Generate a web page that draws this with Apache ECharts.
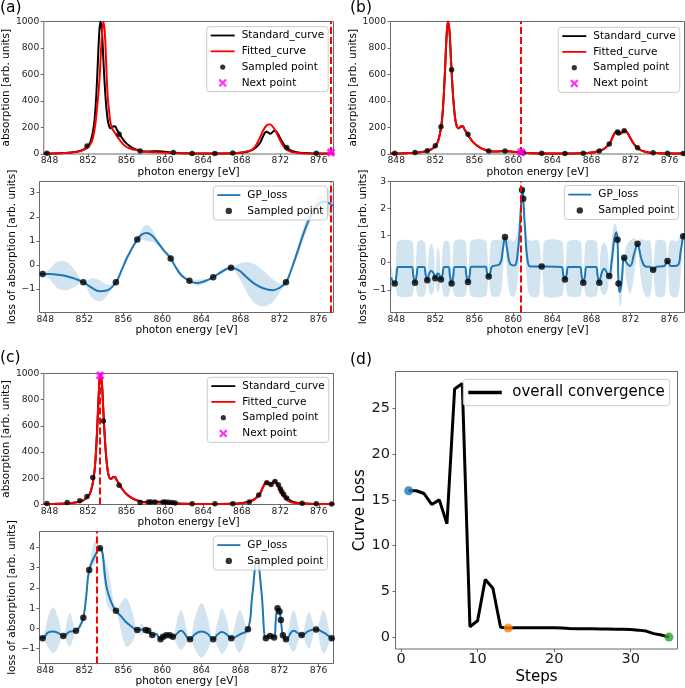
<!DOCTYPE html>
<html><head><meta charset="utf-8">
<script src="https://cdn.jsdelivr.net/npm/echarts@6/dist/echarts.min.js"></script>
<style>html,body{margin:0;padding:0;background:#fff}#c{width:685px;height:688px}</style>
</head><body><div id="c"></div>
<script>
// ---------------- tick labels ----------------
const energyTicks = [848, 852, 856, 860, 864, 868, 872, 876];
const absTicks = [0, 200, 400, 600, 800, 1000];
const lossTicksAB = [-1, 0, 1, 2, 3];
const lossTicksC = [-1, 0, 1, 2, 3, 4];
const stepTicks = [0, 10, 20, 30];
const curveLossTicks = [0, 5, 10, 15, 20, 25];

// ---------------- standard spectrum (black) ----------------
const stdE = [847.4, 848.0, 849.0, 850.0, 850.8, 851.5, 852.0, 852.3, 852.6, 852.8,
  853.0, 853.15, 853.3, 853.45, 853.6, 853.8, 854.0, 854.2, 854.4, 854.6,
  854.8, 855.0, 855.3, 855.6, 856.0, 856.5, 857.0, 857.5, 858.0, 858.7,
  859.3, 860.0, 861.0, 862.0, 863.0, 865.0, 867.0, 868.0, 868.8, 869.4,
  869.9, 870.25, 870.55, 870.8, 870.95, 871.15, 871.4, 871.7, 872.0, 872.4,
  872.75, 873.2, 874.0, 875.0, 876.0, 877.6];
const stdY = [3, 4, 6, 10, 17, 32, 60, 100, 205, 360,
  640, 880, 1000, 930, 720, 460, 290, 210, 195, 208,
  210, 185, 150, 115, 80, 52, 34, 23, 19, 20,
  21, 17, 10, 6, 4, 4, 6, 11, 23, 45,
  85, 140, 168, 160, 153, 162, 175, 158, 118, 70,
  45, 24, 10, 6, 4, 3];

// ---------------- fitted curves (red) ----------------
const fitAE = [847.4, 848, 849, 850, 851, 851.5, 852.0, 852.4, 852.7, 852.95,
  853.2, 853.4, 853.6, 853.75, 853.9, 854.05, 854.25, 854.45, 854.8, 855.3,
  855.8, 856.3, 857.4, 858, 859, 860, 861, 862, 864, 866,
  867.5, 868.5, 869.0, 869.4, 869.8, 870.2, 870.55, 870.85, 871.15, 871.5,
  871.9, 872.3, 872.7, 873.2, 874, 875, 877.6];
const fitAY = [2, 3, 5, 9, 18, 30, 52, 93, 190, 350,
  560, 830, 1000, 920, 680, 440, 290, 205, 160, 106,
  65, 43, 23, 17, 13, 10, 7, 5, 4, 4,
  8, 18, 30, 58, 110, 175, 213, 224, 212, 175,
  115, 62, 30, 14, 6, 3, 2];
const fitBE = stdE;   // panel (b): fitted curve coincides with the standard
const fitBY = stdY;
const fitCE = stdE;
const fitCY = [3, 4, 6, 10, 17, 32, 60, 100, 205, 360,
  640, 880, 1000, 930, 720, 460, 290, 210, 195, 208,
  210, 185, 150, 115, 80, 52, 34, 22, 15, 14,
  14, 12, 8, 5, 4, 4, 6, 11, 23, 45,
  85, 142, 172, 160, 150, 165, 182, 150, 100, 52,
  30, 15, 8, 5, 4, 3];

// ---------------- sampled / next points ----------------
const aSampE = [847.73, 851.9, 855.24, 857.43, 860.88, 862.83, 865.2, 867.06, 872.66, 875.74];
const aSampAbs = [5, 60, 150, 23, 11, 4, 4, 7, 50, 6];
const aLossSampE = [847.73, 851.9, 855.24, 857.43, 860.85, 862.77, 865.2, 867.03, 872.66];
const aLossSamp = [-0.38, -0.72, -0.72, 1.06, 0.27, -0.66, -0.51, -0.12, -0.72];
const aNext = [877.27, 12];

const bSampE = [847.84, 849.92, 851.18, 852.0, 852.58, 853.67, 855.35, 857.47, 859.14, 860.88,
  861.01, 862.9, 865.28, 867.16, 868.8, 869.82, 870.67, 870.77, 871.35, 872.72,
  874.32, 875.79, 877.4];
const bSampAbs = [5, 12, 24, 62, 205, 635, 149, 23, 22, 11,
  10, 5, 4, 5, 23, 75, 166, 158, 175, 47,
  9, 5, 3];
const bLossSamp = [-0.77, -0.74, -0.65, -0.57, -0.62, -0.77, -0.71, -0.51, 0.95, 2.69,
  2.36, -0.14, -0.62, -0.74, -0.74, -0.49, 0.85, -0.77, 0.18, 0.70,
  -0.26, 0.06, 0.98];
const bNext = [860.8, 14];

const cSampE = [847.73, 849.85, 851.15, 851.9, 852.5, 853.6, 855.24, 857.43, 858.28, 858.55,
  858.96, 859.81, 860.07, 860.4, 860.75, 861.07, 862.83, 865.2, 867.06, 868.77,
  869.76, 870.6, 871.04, 871.45, 871.8, 872.0, 872.14, 872.35, 872.66, 874.27,
  875.74, 877.34];
const cSampAbs = [8, 15, 28, 61, 206, 638, 147, 16, 19, 19,
  20, 20, 19, 17, 15, 12, 5, 5, 6, 20,
  73, 166, 153, 175, 150, 120, 100, 78, 50, 10,
  6, 4];
const cLossSampE = [847.73, 849.85, 851.15, 851.9, 852.5, 853.6, 855.24, 857.43, 858.28, 858.55,
  858.96, 859.81, 860.07, 860.4, 860.75, 861.07, 862.83, 865.2, 867.06, 868.77,
  870.6, 871.04, 871.45, 871.8, 872.0, 872.14, 872.35, 872.66, 874.27, 875.74,
  877.34];
const cLossSamp = [-0.49, -0.37, -0.11, 0.53, 2.88, 3.95, 0.87, -0.08, -0.08, -0.11,
  -0.33, -0.54, -0.41, -0.34, -0.34, -0.41, -0.54, -0.54, -0.49, -0.04,
  -0.49, -0.37, -0.45, 0.99, 0.83, 0.41, -0.34, -0.54, -0.33, -0.05,
  -0.49];
const cNext = [853.27, 985];

// ---------------- GP loss: mean and band (panel a) ----------------
const gpAE = [847.42, 847.73, 848.50, 849.30, 850.20, 851.10, 851.90, 852.70, 853.60, 854.30,
  855.24, 855.80, 856.40, 857.43, 857.90, 858.40, 858.90, 859.40, 860.10, 860.85,
  861.40, 862.00, 862.77, 863.50, 864.30, 865.20, 866.10, 867.03, 867.80, 868.60,
  869.50, 870.40, 871.30, 872.00, 872.66, 873.20, 873.80, 874.50, 875.20, 875.90,
  876.60, 877.00, 877.52];
const gpAMean = [-0.37, -0.38, -0.38, -0.41, -0.47, -0.58, -0.72, -0.93, -1.09, -1.06,
  -0.72, -0.24, 0.32, 1.06, 1.27, 1.33, 1.23, 1.00, 0.63, 0.27,
  -0.12, -0.45, -0.66, -0.75, -0.68, -0.51, -0.28, -0.12, -0.22, -0.50,
  -0.80, -0.98, -1.05, -0.95, -0.72, -0.20, 0.50, 1.35, 2.05, 2.50,
  2.62, 2.58, 2.45];
const gpALo = [-0.42, -0.38, -0.62, -0.98, -1.05, -0.90, -0.72, -1.32, -1.52, -1.30,
  -0.72, -0.30, 0.22, 1.06, 1.05, 1.00, 0.95, 0.85, 0.56, 0.27,
  -0.20, -0.52, -0.66, -0.86, -0.76, -0.51, -0.38, -0.12, -0.50, -1.10,
  -1.60, -1.72, -1.55, -1.15, -0.72, -0.30, 0.30, 1.10, 1.80, 2.20,
  2.20, 2.05, 1.75];
const gpAHi = [-0.32, -0.38, -0.14, 0.14, 0.12, -0.26, -0.72, -0.56, -0.64, -0.82,
  -0.72, -0.18, 0.42, 1.06, 1.50, 1.66, 1.50, 1.15, 0.70, 0.27,
  -0.04, -0.38, -0.66, -0.62, -0.60, -0.51, -0.18, -0.12, 0.04, 0.12,
  0.02, -0.26, -0.58, -0.76, -0.72, -0.10, 0.70, 1.60, 2.30, 2.80,
  3.00, 3.10, 3.15];

// ---------------- GP loss (panel b) ----------------
const gpBE = [847.46, 847.84, 848.01, 848.20, 849.57, 849.75, 849.92, 850.09, 850.27, 850.83,
  851.01, 851.18, 851.35, 851.59, 851.83, 852.00, 852.17, 852.29, 852.41, 852.58,
  852.75, 852.93, 853.32, 853.50, 853.67, 853.84, 854.02, 855.00, 855.18, 855.35,
  855.52, 855.70, 857.12, 857.30, 857.47, 857.64, 857.82, 858.60, 858.92, 859.14,
  859.36, 859.68, 860.10, 860.45, 860.70, 860.88, 860.95, 861.01, 861.20, 861.45,
  861.75, 862.55, 862.73, 862.90, 863.07, 863.25, 864.93, 865.11, 865.28, 865.45,
  865.63, 866.81, 866.99, 867.16, 867.33, 867.51, 868.45, 868.63, 868.80, 868.97,
  869.30, 869.65, 869.82, 870.05, 870.35, 870.55, 870.67, 870.77, 870.90, 871.08,
  871.35, 871.55, 871.95, 872.35, 872.55, 872.72, 872.89, 873.15, 873.55, 873.97,
  874.15, 874.32, 874.49, 874.67, 875.44, 875.62, 875.79, 875.96, 876.14, 876.80,
  877.15, 877.40, 877.52];
const gpBMean = [-0.55, -0.77, -0.48, -0.16, -0.16, -0.48, -0.74, -0.46, -0.16, -0.16,
  -0.44, -0.65, -0.42, -0.30, -0.40, -0.57, -0.42, -0.40, -0.44, -0.62,
  -0.42, -0.16, -0.16, -0.48, -0.77, -0.48, -0.16, -0.16, -0.46, -0.71,
  -0.46, -0.15, -0.15, -0.36, -0.51, -0.36, -0.14, -0.05, 0.50, 0.95,
  0.50, -0.05, -0.10, 0.40, 1.60, 2.69, 2.72, 2.36, 1.20, 0.10,
  -0.14, -0.14, -0.14, -0.14, -0.14, -0.14, -0.16, -0.44, -0.62, -0.44,
  -0.16, -0.16, -0.48, -0.74, -0.48, -0.16, -0.16, -0.48, -0.74, -0.48,
  -0.22, -0.42, -0.49, 0.00, 0.90, 1.13, 0.85, -0.77, -1.08, -0.75,
  0.18, 0.02, -0.12, 0.30, 0.55, 0.70, 0.50, 0.10, -0.14, -0.15,
  -0.22, -0.26, -0.22, -0.15, -0.12, -0.04, 0.06, -0.04, -0.12, -0.10,
  0.45, 0.98, 1.05];
const gpBLo = [-1.05, -0.77, -1.05, -1.24, -1.24, -1.05, -0.74, -1.05, -1.24, -1.24,
  -1.05, -0.65, -1.02, -1.20, -1.02, -0.57, -1.00, -1.10, -1.00, -0.62,
  -1.05, -1.24, -1.24, -1.05, -0.77, -1.05, -1.24, -1.24, -1.05, -0.71,
  -1.05, -1.24, -1.24, -1.05, -0.51, -1.05, -1.24, -1.20, -0.40, 0.95,
  -0.40, -1.20, -1.24, -0.60, 0.90, 2.69, 2.62, 2.36, 0.55, -0.90,
  -1.24, -1.24, -0.80, -0.14, -0.80, -1.24, -1.24, -1.05, -0.62, -1.05,
  -1.24, -1.24, -1.05, -0.74, -1.05, -1.24, -1.24, -1.05, -0.74, -1.05,
  -1.20, -1.02, -0.49, -0.70, 0.40, 0.90, 0.85, -0.77, -1.62, -1.45,
  0.18, -0.60, -1.15, -0.50, 0.10, 0.70, 0.00, -0.80, -1.24, -1.24,
  -0.95, -0.26, -0.95, -1.24, -1.24, -0.80, 0.06, -0.80, -1.24, -1.24,
  -0.40, 0.98, 0.92];
const gpBHi = [-0.10, -0.77, 0.50, 0.80, 0.80, 0.52, -0.74, 0.52, 0.80, 0.80,
  0.52, -0.65, 0.45, 0.72, 0.45, -0.57, 0.42, 0.55, 0.42, -0.62,
  0.52, 0.80, 0.80, 0.52, -0.77, 0.52, 0.82, 0.82, 0.52, -0.71,
  0.52, 0.82, 0.82, 0.55, -0.51, 0.55, 0.82, 0.84, 0.92, 0.95,
  0.92, 0.84, 0.82, 1.20, 2.20, 2.69, 2.85, 2.36, 1.80, 0.90,
  0.82, 0.82, 0.50, -0.14, 0.50, 0.82, 0.80, 0.52, -0.62, 0.52,
  0.80, 0.80, 0.52, -0.74, 0.52, 0.80, 0.80, 0.52, -0.74, 0.52,
  0.75, 0.45, -0.49, 0.75, 1.45, 1.40, 0.85, -0.77, -0.60, -0.10,
  0.18, 0.60, 0.82, 0.90, 0.85, 0.70, 0.85, 0.86, 0.82, 0.82,
  0.50, -0.26, 0.50, 0.82, 0.82, 0.70, 0.06, 0.70, 0.82, 0.82,
  1.05, 0.98, 1.18];

// ---------------- GP loss (panel c) ----------------
const gpCE = [847.42, 847.73, 848.30, 848.80, 849.30, 849.85, 850.50, 851.15, 851.55, 851.90,
  852.20, 852.50, 853.05, 853.60, 854.30, 854.80, 855.24, 855.80, 856.30, 856.90,
  857.43, 857.85, 858.28, 858.55, 858.96, 859.35, 859.81, 860.07, 860.40, 860.75,
  861.07, 861.90, 862.83, 863.30, 864.00, 864.60, 865.20, 865.65, 866.10, 866.60,
  867.06, 867.90, 868.77, 869.20, 869.70, 870.15, 870.60, 870.82, 871.04, 871.25,
  871.45, 871.65, 871.80, 872.00, 872.14, 872.35, 872.66, 873.45, 874.27, 875.00,
  875.74, 876.50, 877.34, 877.52];
const gpCMean = [-0.45, -0.49, -0.20, -0.15, -0.22, -0.37, -0.16, -0.11, 0.12, 0.53,
  1.60, 2.88, 3.55, 3.95, 2.00, 1.25, 0.87, 0.58, 0.30, 0.07,
  -0.08, -0.05, -0.08, -0.11, -0.33, -0.28, -0.54, -0.41, -0.34, -0.34,
  -0.41, -0.12, -0.54, -0.30, -0.15, -0.25, -0.54, -0.30, -0.18, -0.30,
  -0.49, -0.30, -0.04, 1.60, 3.45, 1.80, -0.49, -0.35, -0.37, -0.35,
  -0.45, 0.60, 0.99, 0.83, 0.41, -0.34, -0.54, -0.12, -0.33, -0.12,
  -0.05, -0.20, -0.49, -0.55];
const gpCLo = [-0.60, -0.49, -0.95, -1.22, -0.95, -0.37, -0.90, -0.11, -0.04, 0.53,
  1.45, 2.88, 3.15, 3.95, 1.20, 0.85, 0.87, -0.20, -0.90, -0.70,
  -0.08, -0.35, -0.08, -0.11, -0.33, -0.45, -0.54, -0.41, -0.34, -0.34,
  -0.41, -1.05, -0.54, -1.00, -1.45, -1.10, -0.54, -0.90, -1.25, -0.95,
  -0.49, -1.20, -0.04, 1.40, 3.40, 1.60, -0.49, -0.45, -0.37, -0.45,
  -0.45, 0.50, 0.99, 0.83, 0.41, -0.34, -0.54, -1.15, -0.33, -1.00,
  -0.05, -1.25, -0.49, -0.65];
const gpCHi = [-0.30, -0.49, 0.60, 1.05, 0.55, -0.37, 0.75, -0.11, 0.30, 0.53,
  1.80, 2.88, 4.30, 3.95, 3.10, 1.90, 0.87, 1.30, 1.50, 0.85,
  -0.08, 0.25, -0.08, -0.11, -0.33, -0.12, -0.54, -0.41, -0.34, -0.34,
  -0.41, 0.90, -0.54, 0.45, 1.25, 0.60, -0.54, 0.35, 1.00, 0.40,
  -0.49, 0.90, -0.04, 1.80, 3.50, 2.00, -0.49, -0.25, -0.37, -0.25,
  -0.45, 0.75, 0.99, 0.83, 0.41, -0.34, -0.54, 0.90, -0.33, 0.80,
  -0.05, 0.90, -0.49, -0.45];

// ---------------- panel d: convergence ----------------
const steps = [1, 2, 3, 4, 5, 6, 7, 8, 9, 10, 11, 12, 13, 14, 15, 16, 17, 18, 19, 20,
  21, 22, 23, 24, 25, 26, 27, 28, 29, 30, 31, 32, 33, 34, 35];
const curveLoss = [16.0, 16.0, 15.7, 14.5, 15.0, 12.4, 27.1, 27.7, 1.15, 1.8,
  6.3, 5.35, 1.1, 1.0, 1.05, 1.05, 1.05, 1.05, 1.05, 1.05,
  1.0, 0.95, 0.92, 0.92, 0.92, 0.9, 0.9, 0.88, 0.88, 0.85,
  0.78, 0.68, 0.4, 0.25, 0.02];
const highlightSteps = [1, 14, 35];
const highlightColors = ['#1f77b4', '#ff7f0e', '#2ca02c'];

// ======================================================================
const FONT = 'DejaVu Sans';
const E_MIN = 847.41, E_MAX = 877.53;
const pairs = (xs, ys) => xs.map((x, i) => [x, ys[i]]);
const minus = v => String(v).replace('-', '\u2212');
const XPATH = 'path://M0,2.6L2.6,0L5,2.4L7.4,0L10,2.6L7.6,5L10,7.4L7.4,10L5,7.6L2.6,10L0,7.4L2.4,5Z';
const ICON_LINE_T = 'path://M0,0M26,10M0,4.1L24,4.1L24,5.9L0,5.9Z';
const ICON_DOT_T = 'path://M0,0M26,10M9.4,5A2.6,2.6,0,1,0,14.6,5A2.6,2.6,0,1,0,9.4,5Z';
const ICON_X_T = 'path://M0,0M26,10M7.8,2.4L9.4,0.8L12,3.4L14.6,0.8L16.2,2.4L13.6,5L16.2,7.6L14.6,9.2L12,6.6L9.4,9.2L7.8,7.6L10.4,5Z';
const ICON_LINE_B = 'path://M0,0M25,10M0,4.1L23,4.1L23,5.9L0,5.9Z';
const ICON_DOT_B = 'path://M0,0M25,10M8.3,5A3.2,3.2,0,1,0,14.7,5A3.2,3.2,0,1,0,8.3,5Z';
const ICON_LINE_D = 'path://M0,0M39,10M0,3.2L33.5,3.2L33.5,6.8L0,6.8Z';

const FRAME = '#6a6a6a';
const grids = [
  {left: 39.5, top: 21.5, width: 294, height: 132.5},
  {left: 39.5, top: 181.5, width: 294, height: 131},
  {left: 390.5, top: 21.5, width: 294, height: 132.5},
  {left: 390.5, top: 181.5, width: 294, height: 131},
  {left: 39.5, top: 373.5, width: 294, height: 131},
  {left: 39.5, top: 531.5, width: 294, height: 132},
  {left: 395.5, top: 371.5, width: 282, height: 277.5}
].map(g => Object.assign({show: true, borderColor: FRAME, borderWidth: 1, backgroundColor: 'transparent', containLabel: false}, g));

function xAx(gi, min, max, ticks, name, gap, fs, tfs, margin) {
  return {type: 'value', gridIndex: gi, min, max, name, nameLocation: 'middle', nameGap: gap,
    nameTextStyle: {fontSize: fs, fontFamily: FONT, color: '#000'},
    axisLine: {show: false, onZero: false}, splitLine: {show: false},
    axisTick: {show: true, length: 3, customValues: ticks, lineStyle: {color: FRAME, width: 1}},
    axisLabel: {customValues: ticks, fontSize: tfs, fontFamily: FONT, color: '#1a1a1a', margin, formatter: minus}};
}
function yAx(gi, min, max, ticks, name, gap, fs, tfs, margin) {
  return {type: 'value', gridIndex: gi, min, max, name, nameLocation: 'middle', nameGap: gap, nameRotate: 90,
    nameTextStyle: {fontSize: fs, fontFamily: FONT, color: '#000'},
    axisLine: {show: false, onZero: false}, splitLine: {show: false},
    axisTick: {show: true, length: 3, customValues: ticks, lineStyle: {color: FRAME, width: 1}},
    axisLabel: {customValues: ticks, fontSize: tfs, fontFamily: FONT, color: '#1a1a1a', margin, formatter: minus}};
}
const EN = 'photon energy [eV]', AB = 'absorption [arb. units]', LS = 'loss of absorption [arb. units]';
const TF = 9.2, LF = 10.5;
const xAxes = [
  xAx(0, E_MIN, E_MAX, energyTicks, EN, 11.5, LF, TF, 2.5),
  xAx(1, E_MIN, E_MAX, energyTicks, EN, 11.5, LF, TF, 2.5),
  xAx(2, E_MIN, E_MAX, energyTicks, EN, 11.5, LF, TF, 2.5),
  xAx(3, E_MIN, E_MAX, energyTicks, EN, 11.5, LF, TF, 2.5),
  xAx(4, E_MIN, E_MAX, energyTicks, EN, 11.5, LF, TF, 2.5),
  xAx(5, E_MIN, E_MAX, energyTicks, EN, 11.5, LF, TF, 2.5),
  xAx(6, -0.72, 36.11, stepTicks, 'Steps', 20.5, 15, 14.5, 3)
];
const yAxes = [
  yAx(0, 0, 1000, absTicks, AB, 28.5, LF, TF, 4.5),
  yAx(1, -1.976, 3.465, lossTicksAB, LS, 17.5, LF, TF, 4.5),
  yAx(2, 0, 1000, absTicks, AB, 28.5, LF, TF, 4.5),
  yAx(3, -1.837, 3.0, lossTicksAB, LS, 17.5, LF, TF, 4.5),
  yAx(4, 0, 1000, absTicks, AB, 28.5, LF, TF, 4.5),
  yAx(5, -1.73, 4.78, lossTicksC, LS, 17.5, LF, TF, 4.5),
  yAx(6, -1.28, 29.02, curveLossTicks, 'Curve Loss', 27.5, 15, 14.5, 5.5)
];

const SM = 0.45;
const DASH = {silent: true, symbol: ['none', 'none'], label: {show: false}, animation: false,
  lineStyle: {color: '#ff0000', type: [7, 3], width: 2}};

function topSeries(gi, fE, fY, sE, sY, next) {
  return [
    {type: 'line', name: 'Standard_curve', xAxisIndex: gi, yAxisIndex: gi, data: pairs(stdE, stdY),
      smooth: SM, symbol: 'none', lineStyle: {color: '#000', width: 2}, itemStyle: {color: '#000'}, z: 2},
    {type: 'line', name: 'Fitted_curve', xAxisIndex: gi, yAxisIndex: gi, data: pairs(fE, fY),
      smooth: SM, symbol: 'none', lineStyle: {color: '#ff0000', width: 2}, itemStyle: {color: '#ff0000'}, z: 3,
      markLine: Object.assign({data: [{xAxis: next[0]}]}, DASH)},
    {type: 'scatter', name: 'Sampled point', xAxisIndex: gi, yAxisIndex: gi, data: pairs(sE, sY),
      symbolSize: 5.5, itemStyle: {color: '#000'}, z: 4},
    {type: 'scatter', name: 'Next point', xAxisIndex: gi, yAxisIndex: gi, data: [next],
      symbol: XPATH, symbolSize: 9, itemStyle: {color: '#ff00ff'}, z: 5}
  ];
}
// uncertainty band drawn as a polygon through the axes' own coordinate mapping
function bandSeries(gi, E, lo, hi) {
  return {type: 'custom', name: 'band_' + gi, xAxisIndex: gi, yAxisIndex: gi, silent: true, z: 1, clip: true,
    data: [[E[0], lo[0]]],
    renderItem: (params, api) => {
      const cs = params.coordSys;
      const up = E.map((e, i) => api.coord([e, hi[i]]));
      const dn = E.map((e, i) => api.coord([e, lo[i]])).reverse();
      return {type: 'group',
        clipPath: {type: 'rect', shape: {x: cs.x, y: cs.y, width: cs.width, height: cs.height}},
        children: [{type: 'polygon', shape: {points: up.concat(dn), smooth: 0.35},
          style: {fill: 'rgba(31,119,180,0.2)', stroke: null}}]};
    }};
}
function botSeries(gi, E, mean, lo, hi, sE, sY, nextE) {
  return [
    bandSeries(gi, E, lo, hi),
    {type: 'line', name: 'GP_loss', xAxisIndex: gi, yAxisIndex: gi, data: pairs(E, mean), smooth: SM,
      symbol: 'none', lineStyle: {color: '#1f77b4', width: 2}, itemStyle: {color: '#1f77b4'}, z: 3,
      markLine: Object.assign({data: [{xAxis: nextE}]}, DASH)},
    {type: 'scatter', name: 'Sampled point', xAxisIndex: gi, yAxisIndex: gi, data: pairs(sE, sY),
      symbolSize: 6.5, itemStyle: {color: '#000'}, z: 4}
  ];
}

const series = [].concat(
  topSeries(0, fitAE, fitAY, aSampE, aSampAbs, aNext),
  botSeries(1, gpAE, gpAMean, gpALo, gpAHi, aLossSampE, aLossSamp, aNext[0]),
  topSeries(2, fitBE, fitBY, bSampE, bSampAbs, bNext),
  botSeries(3, gpBE, gpBMean, gpBLo, gpBHi, bSampE, bLossSamp, bNext[0]),
  topSeries(4, fitCE, fitCY, cSampE, cSampAbs, cNext),
  botSeries(5, gpCE, gpCMean, gpCLo, gpCHi, cLossSampE, cLossSamp, cNext[0]),
  [
    {type: 'line', name: 'overall convergence', xAxisIndex: 6, yAxisIndex: 6, data: pairs(steps, curveLoss),
      symbol: 'none', lineStyle: {color: '#000', width: 3}, itemStyle: {color: '#000'}, z: 2},
    {type: 'scatter', name: 'highlight', xAxisIndex: 6, yAxisIndex: 6, symbolSize: 9, z: 3,
      data: highlightSteps.map((s, i) => ({value: [s, curveLoss[steps.indexOf(s)]], itemStyle: {color: highlightColors[i]}}))}
  ]
);

function item(name, icon, color) { return {name, icon, itemStyle: {color, borderWidth: 0, borderColor: color}}; }
function legendBox(left, top, data, opts) {
  return Object.assign({show: true, orient: 'vertical', left, top, selectedMode: false,
    backgroundColor: 'rgba(255,255,255,0.8)', borderColor: '#cccccc', borderWidth: 1, borderRadius: 3,
    itemWidth: 26, itemHeight: 10, itemGap: 3.8, padding: [2.8, 4, 2.8, 4],
    textStyle: {fontSize: 10.5, fontFamily: FONT, color: '#000', lineHeight: 12}, data}, opts || {});
}
const topItems = [item('Standard_curve', ICON_LINE_T, '#000'), item('Fitted_curve', ICON_LINE_T, '#ff0000'),
  item('Sampled point', ICON_DOT_T, '#000'), item('Next point', ICON_X_T, '#ff00ff')];
const botItems = [item('GP_loss', ICON_LINE_B, '#1f77b4'), item('Sampled point', ICON_DOT_B, '#000')];
const botOpts = {itemWidth: 25, padding: [3.1, 4, 3.1, 4]};
const legends = [
  legendBox(206.7, 26.7, topItems),
  legendBox(558.3, 27.3, topItems),
  legendBox(207.3, 377.3, topItems),
  legendBox(213.3, 186, botItems, botOpts),
  legendBox(564.3, 185.5, botItems, botOpts),
  legendBox(213.3, 536, botItems, botOpts),
  legendBox(463.3, 379.3, [item('overall convergence', ICON_LINE_D, '#000')],
    {itemWidth: 39, padding: [5.2, 5, 5.2, 5], textStyle: {fontSize: 15, fontFamily: FONT, color: '#000', lineHeight: 16}})
];

const letter = (t, x, y) => ({type: 'text', left: x, top: y, silent: true,
  style: {text: t, fontSize: 15.5, fontFamily: FONT, fill: '#000'}});

const chart = echarts.init(document.getElementById('c'), null, {renderer: 'canvas', width: 685, height: 688});
chart.setOption({
  animation: false,
  backgroundColor: '#ffffff',
  textStyle: {fontFamily: FONT},
  grid: grids, xAxis: xAxes, yAxis: yAxes, legend: legends, series,
  graphic: [letter('(a)', 0, 0), letter('(b)', 350, 0), letter('(c)', 0, 350), letter('(d)', 350, 352)]
});
</script></body></html>
